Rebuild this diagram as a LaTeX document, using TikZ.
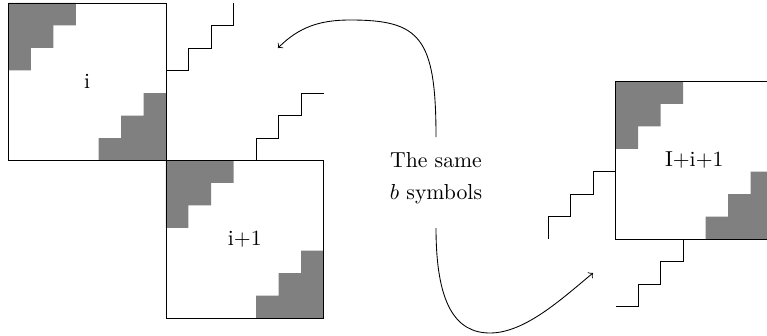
\documentclass[tikz,border=0pt]{standalone}
\usetikzlibrary{calc}
\pgfdeclarelayer{background}
\pgfsetlayers{background,main}
\def\u{22.5}
\tikzset{
  blockbox/.style={draw, minimum size=72.58pt, inner sep=0pt, outer sep=0pt},
  shade/.style={fill=gray},
  stairline/.style={draw, line join=miter},
  curvearrow/.style={draw, ->},
}
\begin{document}
\begin{tikzpicture}[x=0.4608pt, y=-0.4608pt]
\useasboundingbox (0,0) rectangle (767,335);
% squares
\node[blockbox] (sq1) at (87.25,81.75) {i};
\node[blockbox] (sq2) at (244.75,239.25) {i+1};
\node[blockbox] (sq3) at (694.25,160.25) {I+i+1};
% grey staircases
\begin{pgfonlayer}{background}
\foreach \s in {sq1,sq2,sq3}{
  \fill[shade] (\s.north west) -- ++(3*\u,0) -- ++(0,\u) -- ++(-\u,0) -- ++(0,\u) -- ++(-\u,0) -- ++(0,\u) -- ++(-\u,0) -- cycle;
  \fill[shade] (\s.south east) -- ++(-3*\u,0) -- ++(0,-\u) -- ++(\u,0) -- ++(0,-\u) -- ++(\u,0) -- ++(0,-\u) -- ++(\u,0) -- cycle;
}
\end{pgfonlayer}
% step lines
\draw[stairline] ($(sq1.north east)+(0,3*\u)$) -- ++(\u,0) -- ++(0,-\u) -- ++(\u,0) -- ++(0,-\u) -- ++(\u,0) -- ++(0,-\u);
\draw[stairline] ($(sq2.north west)+(4*\u,0)$) -- ++(0,-\u) -- ++(\u,0) -- ++(0,-\u) -- ++(\u,0) -- ++(0,-\u) -- ++(\u,0);
\draw[stairline] ($(sq3.south west)+(0,-3*\u)$) -- ++(-\u,0) -- ++(0,\u) -- ++(-\u,0) -- ++(0,\u) -- ++(-\u,0) -- ++(0,\u);
\draw[stairline] ($(sq3.south west)+(3*\u,0)$) -- ++(0,\u) -- ++(-\u,0) -- ++(0,\u) -- ++(-\u,0) -- ++(0,\u) -- ++(-\u,0);
% text and arrows
\node[align=center, inner sep=0pt] (txt) at (436,178) {The same\\[2.7pt] $b$ symbols};
\coordinate (a1s) at (436,137);
\coordinate (a1e) at (278,48);
\coordinate (a2s) at (436,228);
\coordinate (a2e) at (593,273);
\draw[curvearrow] (a1s) .. controls (436,37) and (420,20) .. (350,20) .. controls (320,20) and (299,27) .. (a1e);
\draw[curvearrow] (a2s) .. controls (436,303) and (455,333) .. (490,333) .. controls (525,333) and (562,298.6) .. (a2e);
\end{tikzpicture}
\end{document}
